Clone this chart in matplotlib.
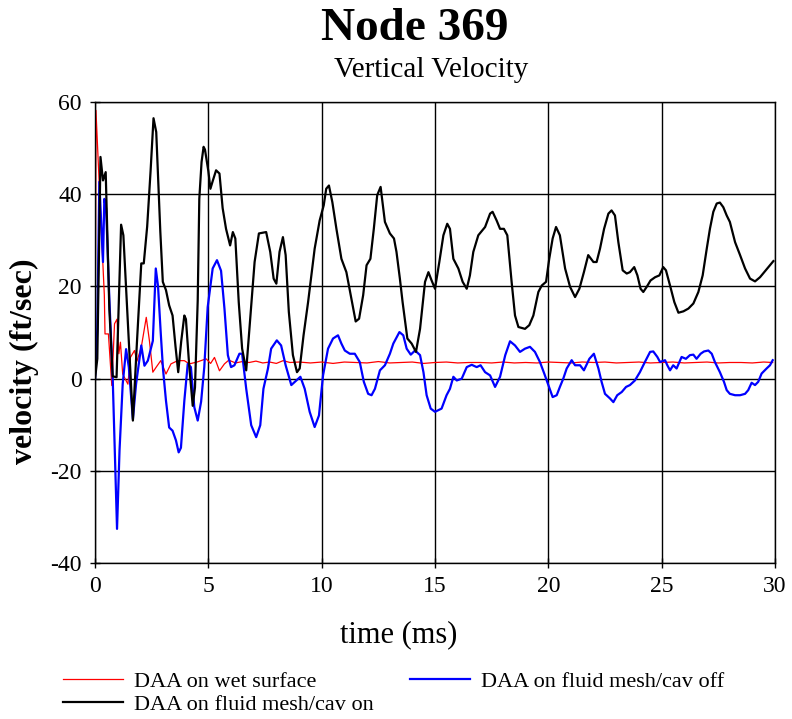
import matplotlib
matplotlib.use('Agg')
import matplotlib.pyplot as plt

# --- данные (время в мс, скорость в ft/sec) ---
t_wet = [0, 0.04, 0.24, 0.41, 0.44, 0.59, 0.74, 0.86, 0.97, 1.05, 1.12, 1.22, 1.45, 1.56,
         1.74, 1.85, 2.04, 2.26, 2.4, 2.55, 2.7, 2.9, 3.13, 3.35, 3.65, 3.94, 4.16, 4.5,
         4.9, 5.1, 5.27, 5.49, 5.71, 5.9, 6.2, 6.5, 6.8, 7.1, 7.4, 7.7, 8.0, 8.3, 8.6, 9.0,
         9.5, 10, 10.5, 11, 11.5, 12, 12.5, 13, 13.5, 14, 14.5, 15, 15.5, 16, 16.5, 17,
         17.5, 18, 18.5, 19, 19.5, 20, 20.5, 21, 21.5, 22, 22.5, 23, 23.5, 24, 24.5, 25,
         25.5, 26, 26.5, 27, 27.5, 28, 28.5, 29, 29.5, 29.9]
v_wet = [0, 58.2, 36.2, 18.1, 9.7, 9.7, -1.5, 11.9, 12.9, 5.4, 7.9, 1.0, -1.2, 4.6,
         6.1, 3.8, 6.8, 13.3, 8.2, 1.4, 2.5, 3.9, 1.0, 3.2, 3.9, 3.9, 3.2, 3.6,
         4.3, 3.3, 4.6, 1.7, 3.2, 4.0, 3.4, 3.7, 3.5, 3.8, 3.4, 3.6, 3.3, 3.9, 3.5, 3.6,
         3.4, 3.6, 3.3, 3.6, 3.5, 3.4, 3.7, 3.4, 3.5, 3.6, 3.3, 3.5, 3.6, 3.4, 3.5, 3.5,
         3.4, 3.6, 3.4, 3.5, 3.4, 3.6, 3.5, 3.4, 3.6, 3.5, 3.6, 3.4, 3.5, 3.6, 3.4, 3.5,
         3.6, 3.4, 3.5, 3.6, 3.4, 3.5, 3.5, 3.4, 3.6, 3.5]

t_cav_off = [0, 0.1, 0.19, 0.35, 0.41, 0.49, 0.63, 0.71, 0.78, 0.97, 1.08, 1.22, 1.37, 1.49,
             1.67, 1.81, 2.04, 2.18, 2.33, 2.55, 2.68, 2.78, 2.9, 3.0, 3.13, 3.27, 3.42,
             3.57, 3.69, 3.79, 3.94, 4.09, 4.23, 4.38, 4.53, 4.68, 4.82, 4.97, 5.19, 5.38,
             5.56, 5.71, 5.86, 6.0, 6.15, 6.37, 6.49, 6.67, 6.89, 7.11, 7.29, 7.43, 7.63,
             7.77, 8.02, 8.21, 8.41, 8.66, 8.88, 9.06, 9.25, 9.47, 9.69, 9.88, 10.06, 10.28,
             10.5, 10.72, 10.87, 11.02, 11.24, 11.46, 11.68, 11.86, 12.05, 12.2, 12.35,
             12.57, 12.79, 13.01, 13.16, 13.43, 13.6, 13.75, 13.93, 14.12, 14.34, 14.49,
             14.63, 14.81, 15.0, 15.29, 15.51, 15.66, 15.81, 15.96, 16.18, 16.4, 16.62,
             16.84, 17.01, 17.21, 17.43, 17.65, 17.87, 18.1, 18.31, 18.53, 18.75, 18.97,
             19.19, 19.41, 19.63, 19.82, 20.0, 20.19, 20.37, 20.51, 20.66, 20.81, 21.03,
             21.18, 21.4, 21.57, 21.81, 22.01, 22.21, 22.35, 22.5, 22.72, 22.87, 23.04,
             23.24, 23.43, 23.6, 23.82, 24.04, 24.26, 24.49, 24.63, 24.81, 24.93, 25.15,
             25.25, 25.37, 25.51, 25.66, 25.88, 26.07, 26.25, 26.4, 26.54, 26.72, 26.87,
             27.06, 27.21, 27.35, 27.57, 27.75, 27.87, 28.01, 28.24, 28.46, 28.68, 28.82,
             28.97, 29.12, 29.26, 29.41, 29.63, 29.78, 29.9]
v_cav_off = [0, 10.8, 42.7, 25.3, 39.0, 36.9, 17.4, 8.2, 0, -32.6, -15.6, -1.2, 6.4, 2.5,
             -8.8, -1.2, 7.2, 2.8, 3.9, 8.2, 23.9, 20.0, 9.8, 2.0, -4.8, -10.6, -11.3,
             -13.4, -16.0, -15.0, -4.8, 3.2, 2.5, -6.2, -9.1, -5.0, 2.5, 15.5, 23.9, 25.7,
             23.4, 15.2, 5.1, 2.5, 2.9, 5.4, 5.4, -2.2, -10.1, -12.7, -10.1, -2.2, 2.2,
             6.5, 8.3, 7.2, 2.9, -1.4, -0.4, 0.4, -2.2, -7.2, -10.5, -8.0, 0.7, 6.5,
             8.7, 9.4, 7.6, 6.1, 5.4, 5.4, 3.6, -0.7, -3.3, -3.6, -2.2,
             1.8, 2.9, 5.4, 7.6, 10.1, 9.4, 6.5, 5.2, 6.1, 5.1, 1.4,
             -3.6, -6.5, -7.2, -6.5, -3.6, -2.2, 0.4, -0.4, 0, 2.5, 3.0,
             2.5, 2.9, 1.4, 0.7, -1.8, 0.4, 5.1, 8.1, 7.2, 5.8, 6.5,
             6.9, 5.8, 3.6, 1.1, -1.4, -4.0, -3.6, -1.8, 0, 2.2, 4.0,
             2.9, 2.9, 1.8, 4.3, 5.4, 2.2, -0.7, -3.3, -4.3, -5.1, -3.6,
             -2.9, -1.8, -1.4, -0.4, 1.4, 3.6, 5.8, 5.9, 4.7, 3.6, 4.0,
             2.9, 1.8, 2.9, 2.2, 4.7, 4.3, 5.1, 5.2, 4.3, 5.4, 5.9,
             6.1, 5.4, 3.6, 1.4, -0.7, -2.5, -3.3, -3.6, -3.6, -3.3, -2.5,
             -0.9, -1.4, -0.7, 1.1, 2.2, 2.9, 4.0]

t_cav_on = [0, 0.1, 0.24, 0.35, 0.47, 0.63, 0.78, 0.95, 1.15, 1.25, 1.45, 1.67, 1.85, 2.04,
            2.15, 2.3, 2.45, 2.58, 2.7, 2.76, 2.88, 2.99, 3.13, 3.27, 3.42, 3.55, 3.67, 3.8,
            3.94, 4.01, 4.16, 4.31, 4.41, 4.53, 4.6, 4.7, 4.79, 4.85, 5.0, 5.09, 5.2, 5.34,
            5.49, 5.63, 5.78, 5.96, 6.08, 6.19, 6.34, 6.49, 6.67, 6.81, 7.04, 7.23, 7.55,
            7.73, 7.88, 8.0, 8.14, 8.29, 8.41, 8.55, 8.73, 8.91, 9.03, 9.2, 9.4, 9.69, 9.91,
            10.09, 10.2, 10.32, 10.47, 10.65, 10.87, 11.09, 11.31, 11.5, 11.65, 11.83,
            11.98, 12.15, 12.3, 12.45, 12.6, 12.79, 13.01, 13.19, 13.3, 13.45, 13.57,
            13.78, 13.97, 14.16, 14.34, 14.56, 14.71, 14.85, 15.0, 15.19, 15.37, 15.54,
            15.66, 15.81, 16.03, 16.22, 16.4, 16.54, 16.69, 16.91, 17.21, 17.43, 17.54,
            17.72, 17.87, 18.04, 18.19, 18.38, 18.53, 18.68, 18.97, 19.16, 19.34, 19.56,
            19.71, 19.9, 20.04, 20.19, 20.34, 20.51, 20.74, 20.96, 21.18, 21.37, 21.57,
            21.76, 21.99, 22.13, 22.28, 22.46, 22.65, 22.79, 22.94, 23.09, 23.28, 23.46,
            23.6, 23.79, 23.93, 24.07, 24.19, 24.34, 24.51, 24.71, 24.9, 25.07, 25.19,
            25.37, 25.56, 25.74, 25.96, 26.18, 26.4, 26.62, 26.81, 26.99, 27.13, 27.28,
            27.43, 27.57, 27.72, 27.87, 28.01, 28.24, 28.46, 28.68, 28.9, 29.12, 29.34,
            29.56, 29.78, 29.93]
v_cav_on = [0, 4.3, 48.1, 43.0, 44.8, 15.2, 0.5, 0.3, 33.4, 31.1, 12.0, -9.1, 8.0, 25.0,
            25.0, 33.0, 45.0, 56.5, 53.5, 46.3, 31.9, 21.0, 19.2, 15.9, 13.7, 7.0, 1.4, 8.0,
            13.7, 12.9, 2.5, -5.9, -1.9, 16.9, 39.0, 47.0, 50.3, 49.7, 45.0, 41.2, 43.0, 45.2,
            44.5, 37.0, 32.5, 28.9, 31.8, 30.4, 16.6, 6.5, 1.8, 10.8, 25.3, 31.5, 31.8,
            27.5, 21.7, 20.6, 27.5, 30.7, 26.8, 14.5, 5.1, 1.4, 2.2, 9.4, 16.6, 28.2, 34.3,
            37.6, 41.2, 41.9, 38.3, 32.5, 26.0, 23.1, 17.4, 12.4, 13.0, 18.1,
            24.6, 26.0, 32.5, 39.8, 41.6, 34.0, 31.5, 30.4, 27.5, 21.7, 16.6,
            8.7, 7.6, 5.8, 10.8, 21.0, 23.1, 21.3, 19.5, 25.3, 31.1, 33.6,
            32.5, 26.0, 23.9, 21.0, 19.5, 22.4, 27.5, 31.1, 32.9, 35.8, 36.2,
            34.3, 32.5, 32.5, 31.1, 21.0, 13.7, 11.2, 10.8, 11.6, 13.7, 18.8,
            20.2, 21.0, 26.0, 30.4, 32.9, 31.1, 23.9, 19.9, 17.7, 19.5, 23.1,
            26.8, 25.3, 25.3, 28.2, 32.5, 35.8, 36.5, 35.4, 29.6, 23.5, 22.8,
            23.1, 24.2, 22.4, 19.5, 18.8, 19.9, 21.3, 22.0, 22.4, 24.2, 23.5,
            20.2, 16.6, 14.3, 14.6, 15.2, 16.3, 18.8, 22.4, 28.2, 32.5, 36.2,
            38.0, 38.2, 37.2, 35.4, 34.0, 29.6, 26.8, 23.9, 21.7, 21.1, 22.0,
            23.3, 24.6, 25.5]

labels = ['DAA on wet surface', 'DAA on fluid mesh/cav off', 'DAA on fluid mesh/cav on']
x_ticks = [0, 5, 10, 15, 20, 25, 30]
y_ticks = [-40, -20, 0, 20, 40, 60]

plt.rcParams['font.family'] = ['Liberation Serif', 'DejaVu Serif']
plt.rcParams['axes.unicode_minus'] = False

fig = plt.figure(figsize=(7.92, 7.19), dpi=100)
ax = fig.add_axes([0.12, 0.217, 0.8585, 0.641])

l_wet, = ax.plot(t_wet, v_wet, color='#ff0000', lw=0.9)
l_off, = ax.plot(t_cav_off, v_cav_off, color='#0000ff', lw=1.6)
l_on, = ax.plot(t_cav_on, v_cav_on, color='black', lw=1.6)

ax.set_xlim(0, 30)
ax.set_ylim(-40, 60)
ax.set_xticks(x_ticks)
ax.set_yticks(y_ticks)
ax.grid(True, color='black', lw=1.0)
ax.set_axisbelow(True)
ax.tick_params(direction='inout', length=7, width=1, labelsize=17, pad=6)
for s in ax.spines.values():
    s.set_linewidth(1.0)

ax.set_xlabel('time (ms)', fontsize=22)
ax.set_ylabel('velocity (ft/sec)', fontsize=23, fontweight='bold')
ax.xaxis.set_label_coords(0.447, -0.125)
ax.yaxis.set_label_coords(-0.083, 0.438)

fig.text(0.524, 0.945, 'Node 369', ha='center', va='baseline', fontsize=34, fontweight='bold')
fig.text(0.544, 0.893, 'Vertical Velocity', ha='center', va='baseline', fontsize=21)

# порядок ручек такой, чтобы при ncol=2 строки шли: красная, синяя / чёрная
fig.legend([l_wet, l_on, l_off], [labels[0], labels[2], labels[1]],
           loc='center', bbox_to_anchor=(0.497, 0.036), ncol=2, frameon=False,
           fontsize=16, handlelength=2.7, handletextpad=0.5, columnspacing=1.6,
           labelspacing=0.1)

fig.savefig('out.png', dpi=100)
